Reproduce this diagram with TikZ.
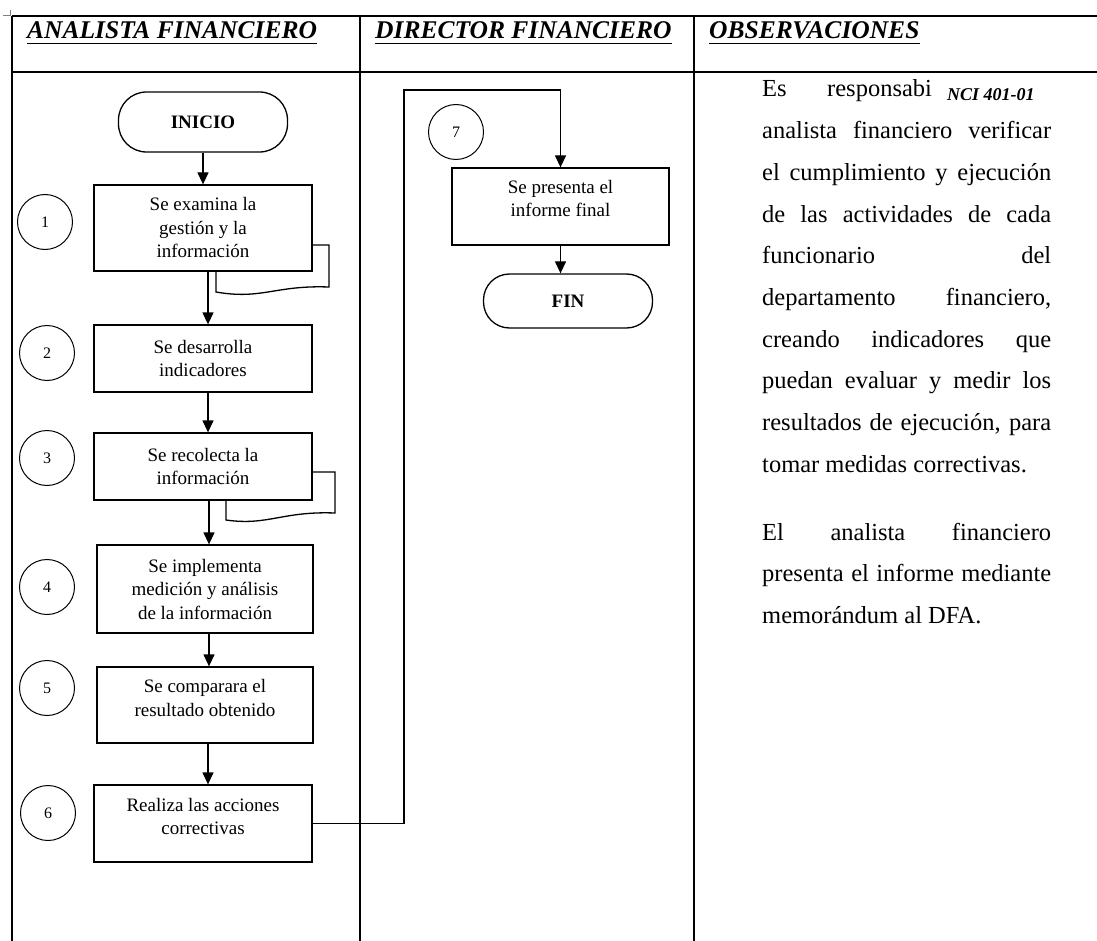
\documentclass[tikz,border=0pt]{standalone}
\usepackage{fontspec}
\setmainfont{Liberation Serif}
\usetikzlibrary{arrows.meta}
\def\tablelinewidth{1.5pt}
\def\obswidth{289pt}
\def\obsline#1{\makebox[\obswidth][s]{#1}}
\tikzset{
    lane/.style={line width=\tablelinewidth},
    lanehead/.style={anchor=base west, inner sep=0pt, font=\bfseries\itshape\fontsize{25.5}{25.5}\selectfont},
    proc/.style={draw, line width=1.3pt, minimum width=218pt, align=center, inner sep=0pt, font=\fontsize{19}{23.5}\selectfont},
    proctext/.style={align=center, inner sep=0pt, font=\fontsize{19}{23.5}\selectfont},
    stepnum/.style={draw, circle, line width=1pt, minimum size=55pt, inner sep=0pt, font=\fontsize{16}{16}\selectfont},
    term/.style={draw, line width=1.3pt, rounded corners=28pt, minimum width=169pt, font=\bfseries\fontsize{19}{19}\selectfont},
    flow/.style={line width=1.3pt, -{Triangle[width=11pt,length=12pt]}},
    obs/.style={anchor=base west, inner sep=0pt, font=\fontsize{24.5}{42}\selectfont},
}
\begin{document}
\begin{tikzpicture}[x=1pt, y=-1pt]
    \useasboundingbox (0,0) rectangle (1097,941);
    % table
    \draw[lane] (12,16) -- (1097,16);
    \draw[lane] (12,72) -- (1097,72);
    \foreach \x in {12,360,694}
        \draw[lane] (\x,16) -- (\x,941);
    \draw[gray, line width=0.8pt] (3,15) -- (10,15) -- (10,10);

    % lane headers
    \node[lanehead] (hAnalista) at (27,39) {ANALISTA FINANCIERO};
    \node[lanehead] (hDirector) at (375,39) {DIRECTOR FINANCIERO};
    \node[lanehead] (hObs) at (709,39) {OBSERVACIONES};
    \foreach \h in {hAnalista,hDirector,hObs}
        \draw[line width=1.8pt] ([yshift=-4.5pt]\h.base west) -- ([yshift=-4.5pt]\h.base east);

    % analista financiero
    \node[term, minimum height=60pt] (inicio) at (203,122) {INICIO};
    \node[proc, minimum height=86pt] (b1) at (203,228) {Se examina la\\gestión y la\\información};
    \node[proc, minimum height=67pt] (b2) at (203,358.5) {Se desarrolla\\indicadores};
    \node[proc, minimum height=67pt] (b3) at (203,466.5) {Se recolecta la\\información};
    \node[proc, minimum width=216pt, minimum height=88pt] (b4) at (205,589) {Se implementa\\medición y análisis\\de la información};
    \node[proc, minimum width=216pt, minimum height=76pt] (b5) at (205,705) {};
    \node[proctext] (b5t) at ([yshift=7pt]b5.center) {Se comparara el\\resultado obtenido};
    \node[proc, minimum height=77pt] (b6) at (203,823.5) {};
    \node[proctext] (b6t) at ([yshift=7pt]b6.center) {Realiza las acciones\\correctivas};

    \node[stepnum] (c1) at (45,222) {1};
    \node[stepnum] (c2) at (47,353) {2};
    \node[stepnum] (c3) at (47,458) {3};
    \node[stepnum] (c4) at (47,587) {4};
    \node[stepnum] (c5) at (47,688) {5};
    \node[stepnum] (c6) at (48,813) {6};

    % document tails
    \draw[line width=1.3pt] ([yshift=-17pt]b1.east) -- (329,245) -- (329,287)
        .. controls (275,285) and (262,300) .. (216,292) -- (216,271);
    \draw[line width=1.3pt] ([yshift=-5.5pt]b3.east) -- (335,472) -- (335,513)
        .. controls (282,511) and (268,526) .. (226,520) -- (226,500);

    \draw[flow] (inicio.south) -- (b1.north);
    \draw[flow] ([xshift=5pt]b1.south) -- ([xshift=5pt]b1.south |- b2.north);
    \draw[flow] ([xshift=5pt]b2.south) -- ([xshift=5pt]b2.south |- b3.north);
    \draw[flow] ([xshift=6pt]b3.south) -- ([xshift=6pt]b3.south |- b4.north);
    \draw[flow] ([xshift=4pt]b4.south) -- ([xshift=4pt]b4.south |- b5.north);
    \draw[flow] ([xshift=3pt]b5.south) -- ([xshift=3pt]b5.south |- b6.north);

    % director financiero
    \coordinate (turn) at (404,90);
    \node[stepnum] (c7) at (456,132) {7};
    \node[proc, minimum width=217pt, minimum height=77pt] (b7) at (560.5,206.5) {};
    \node[proctext] (b7t) at ([yshift=8pt]b7.center) {Se presenta el\\informe final};
    \node[term, minimum height=54pt, rounded corners=26pt] (fin) at (568,301) {FIN};
    \draw[flow] (b6.east) -| (turn) -| (b7.north);
    \draw[flow] (b7.south) -- (b7.south |- fin.north);

    % observaciones
    \node[obs] (obsEs) at (762,97) {Es};
    \node[obs] (obsResp) at (827,97) {responsabi};
    \node[anchor=base west, inner sep=0pt, font=\bfseries\itshape\fontsize{18}{18}\selectfont] (nci) at (947,101) {NCI 401-01};
    \foreach \t [count=\i] in {{analista financiero verificar},{el cumplimiento y ejecución},
        {de las actividades de cada},{funcionario del},{departamento financiero,},
        {creando indicadores que},{puedan evaluar y medir los},{resultados de ejecución, para}}
        \node[obs] (obs\i) at (762,97+41.7*\i) {\obsline{\t}};
    \node[obs] (obs9) at (762,472.3) {tomar medidas correctivas.};
    \node[obs] (obsEl) at (762,540) {\obsline{El analista financiero}};
    \node[obs] (obsPres) at (762,581.7) {\obsline{presenta el informe mediante}};
    \node[obs] (obsMemo) at (762,623.4) {memorándum al DFA.};
\end{tikzpicture}
\end{document}
